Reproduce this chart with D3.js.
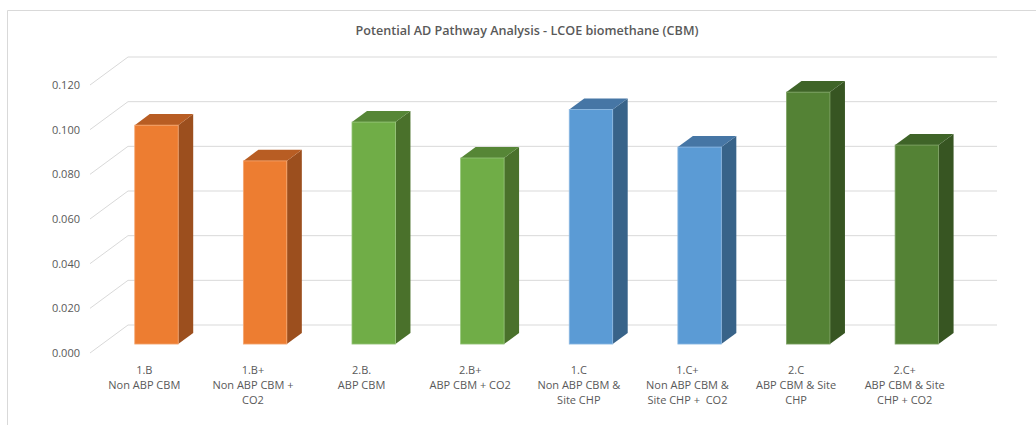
<!DOCTYPE html>
<html>
<head>
<meta charset="utf-8">
<script src="https://cdn.jsdelivr.net/npm/d3@7/dist/d3.min.js"></script>
<style>
  html, body { margin: 0; padding: 0; background: #fff; }
  svg { display: block; }
  text { font-family: "Open Sans", "Noto Sans", sans-serif; fill: #595959; white-space: pre; }
</style>
</head>
<body>
<svg id="chart" width="1036" height="425"></svg>
<script>
// LCOE of biomethane for each anaerobic digestion pathway
const categories = ["1.B", "1.B+", "2.B.", "2.B+", "1.C", "1.C+", "2.C", "2.C+"];
const labelLines = [
  ["1.B", "Non ABP CBM"],
  ["1.B+", "Non ABP CBM +", "CO2"],
  ["2.B.", "ABP CBM"],
  ["2.B+", "ABP CBM + CO2"],
  ["1.C", "Non ABP CBM &", "Site CHP"],
  ["1.C+", "Non ABP CBM &", "Site CHP +  CO2"],
  ["2.C", "ABP CBM & Site", "CHP"],
  ["2.C+", "ABP CBM & Site", "CHP + CO2"]
];
const lcoe = [0.098, 0.082, 0.0994, 0.0833, 0.105, 0.0882, 0.1128, 0.0891];
const groups = ["orange", "orange", "lightgreen", "lightgreen", "blue", "blue", "darkgreen", "darkgreen"];
const yTicks = [0, 0.02, 0.04, 0.06, 0.08, 0.1, 0.12];

// face colours per group: front, side, top
const palette = {
  orange:     { front: "#ED7D31", side: "#9C4F1E", top: "#B85D23", edge: "#F4A772" },
  lightgreen: { front: "#70AD47", side: "#4A712B", top: "#568636", edge: "#96C57A" },
  blue:       { front: "#5B9BD5", side: "#386389", top: "#4676A5", edge: "#8CB8E2" },
  darkgreen:  { front: "#548235", side: "#375522", top: "#3F6428", edge: "#7EA264" }
};

const svg = d3.select("#chart");

// Chart area outline (top and left edges)
svg.append("path")
  .attr("d", "M7.5,425 L7.5,10.5 L1036,10.5")
  .attr("fill", "none").attr("stroke", "#d9d9d9").attr("stroke-width", 1);

// Title
svg.append("text")
  .attr("x", 527).attr("y", 35)
  .attr("text-anchor", "middle")
  .style("font-size", "12.6px")
  .style("font-weight", 600)
  .text("Potential AD Pathway Analysis - LCOE biomethane (CBM)");

// Front-plane scales; depth is added with an oblique projection
const floorLeft = 90, floorRight = 959;
const depthDX = 38, depthDY = -28;
const x = d3.scaleBand().domain(categories).range([floorLeft, floorRight]);
const y = d3.scaleLinear().domain([0, 0.12]).range([353, 85]);
const proj = (px, py, z) => [px + depthDX * z, py + depthDY * z];

// Back wall gridlines and side-wall diagonals
const grid = svg.append("g").attr("stroke", "#d9d9d9").attr("stroke-width", 1).attr("fill", "none");
yTicks.forEach(v => {
  const [bx, by] = proj(floorLeft, y(v), 1);
  grid.append("line").attr("x1", bx).attr("y1", by).attr("x2", 997).attr("y2", by);
  grid.append("line").attr("x1", floorLeft).attr("y1", y(v)).attr("x2", bx).attr("y2", by);
});

// Value axis labels
svg.append("g").selectAll("text").data(yTicks).join("text")
  .attr("x", 80).attr("y", d => y(d) + 4)
  .attr("text-anchor", "end")
  .style("font-size", "11px")
  .style("font-weight", 500)
  .text(d => d3.format(".3f")(d));

// 3D columns
const zFront = 0.32, zBack = 0.715;
const barFrac = 0.4;
const bars = svg.append("g");
categories.forEach((c, i) => {
  const col = palette[groups[i]];
  const cx = x(c) + x.bandwidth() / 2;
  const w = x.bandwidth() * barFrac;
  const x0 = cx - w / 2, x1 = cx + w / 2;
  const yTop = y(lcoe[i]), yBot = y(0);
  const P = (px, py, z) => proj(px, py, z).join(",");
  const g = bars.append("g");
  // right side face
  g.append("polygon")
    .attr("points", [P(x1, yBot, zFront), P(x1, yTop, zFront), P(x1, yTop, zBack), P(x1, yBot, zBack)].join(" "))
    .attr("fill", col.side);
  // top face
  g.append("polygon")
    .attr("points", [P(x0, yTop, zFront), P(x1, yTop, zFront), P(x1, yTop, zBack), P(x0, yTop, zBack)].join(" "))
    .attr("fill", col.top);
  // front face
  const [fx, fy] = proj(x0, yTop, zFront);
  g.append("rect")
    .attr("x", fx).attr("y", fy)
    .attr("width", w).attr("height", yBot - yTop)
    .attr("fill", col.front)
    .attr("stroke", col.edge).attr("stroke-width", 0.8);
});

// Category labels
const labels = svg.append("g");
categories.forEach((c, i) => {
  const t = labels.append("text")
    .attr("x", x(c) + x.bandwidth() / 2)
    .attr("y", 374)
    .attr("text-anchor", "middle")
    .style("font-size", "11px")
    .style("font-weight", 500);
  labelLines[i].forEach((line, k) => {
    t.append("tspan")
      .attr("x", x(c) + x.bandwidth() / 2)
      .attr("dy", k === 0 ? 0 : 15)
      .text(line);
  });
});
</script>
</body>
</html>
